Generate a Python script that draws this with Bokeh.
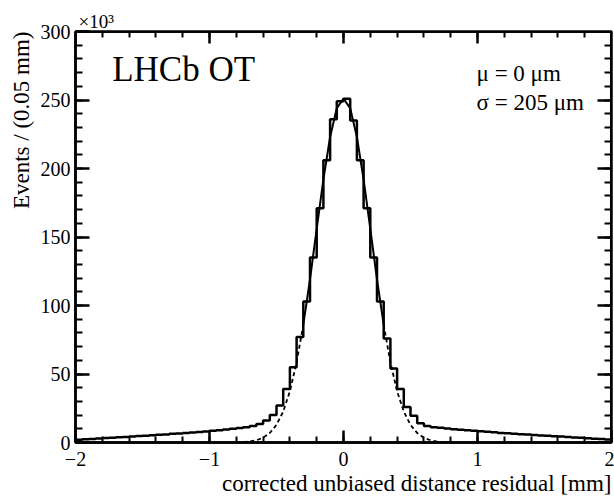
import numpy as np
from bokeh.plotting import figure
from bokeh.models import LinearAxis, Label, FixedTicker, Title
from bokeh.embed import file_html
from bokeh.resources import INLINE

# ---- data ----
bin_lo, bin_hi = -2.0, 2.0
counts_k = [
    2.0, 2.3, 2.6, 2.9, 3.2, 3.5, 3.8, 4.1, 4.4, 4.7, 5.0, 5.3, 5.6, 5.9,
    6.3, 6.6, 6.9, 7.3, 7.7, 8.1, 8.5, 9.0, 9.5, 10.0, 10.6, 11.2, 12.0,
    13.5, 16, 20, 27, 39, 55, 77, 103, 135, 171, 206, 236, 249,
    251, 235, 206, 171, 135, 103, 76, 54, 39, 26, 19.5, 14, 12,
    11.2, 10.7, 10.2, 9.7, 9.3, 8.9, 8.6, 8.2, 7.8, 7.4, 7.0, 6.7, 6.4,
    6.1, 5.8, 5.5, 5.2, 4.9, 4.6, 4.3, 4.0, 3.7, 3.4, 3.1, 2.8, 2.5, 2.2,
]
fit_x = [-0.8, -0.75, -0.7, -0.65, -0.6, -0.55, -0.5, -0.45, -0.4, -0.35, -0.3,
         -0.25, -0.2, -0.15, -0.1, -0.05, 0.0, 0.05, 0.1, 0.15, 0.2, 0.25,
         0.3, 0.35, 0.4, 0.45, 0.5, 0.55, 0.6, 0.65, 0.7, 0.75, 0.8]
fit_y = [0.1, 0.3, 0.7, 1.6, 3.5, 6.9, 12.9, 22.6, 37.4, 58.5, 86,
         119, 156, 192, 223, 244, 251, 244, 223, 192, 156, 119,
         86, 58.5, 37.4, 22.6, 12.9, 6.9, 3.5, 1.6, 0.7, 0.3, 0.1]
fit_lo, fit_hi = -0.3, 0.3
x_major_ticks = [-2, -1, 0, 1, 2]
x_minor_step = 0.2
y_major_ticks = [0, 50, 100, 150, 200, 250, 300]
y_minor_step = 10
x_label = "corrected unbiased distance residual [mm]"
y_label = "Events / (0.05 mm)"
title_text = "LHCb OT"
mu_text = "\u03bc = 0 \u03bcm"
sigma_text = "\u03c3 = 205 \u03bcm"
exp_text = "\u00d710\u00b3"

FONT = "Liberation Serif"

n_bins = len(counts_k)
edges = np.linspace(bin_lo, bin_hi, n_bins + 1)
step_y = list(counts_k) + [counts_k[-1]]
x_minor = list(np.round(np.arange(bin_lo, bin_hi + 1e-9, x_minor_step), 6))
y_minor = list(np.arange(0, 300 + 1, y_minor_step))

p = figure(width=614, height=499, x_range=(-2, 2), y_range=(0, 300),
           output_backend="svg", toolbar_location=None,
           x_axis_location=None, y_axis_location=None,
           min_border_left=75, min_border_right=3,
           min_border_top=31, min_border_bottom=57)
p.grid.visible = False
p.outline_line_color = "black"
p.outline_line_width = 2.5
p.background_fill_color = "white"
p.border_fill_color = "white"

# "x10^3" multiplier as the plot title, top-left
p.title.text = exp_text
p.title.align = "left"
p.title.text_font = FONT
p.title.text_font_size = "19px"
p.title.text_font_style = "normal"
p.title.text_color = "black"
p.title.standoff = 0
p.title.offset = -7
p.title.padding = (10, 0, 0, 0)


def style_axis(ax, maj_in, min_in):
    ax.axis_line_width = 2.5
    ax.axis_line_color = "black"
    ax.major_tick_line_width = 2.5
    ax.minor_tick_line_width = 2
    ax.major_tick_in = maj_in
    ax.major_tick_out = 0
    ax.minor_tick_in = min_in
    ax.minor_tick_out = 0
    ax.major_label_text_font = FONT
    ax.major_label_text_font_size = "20px"
    ax.major_label_text_color = "black"
    return ax


left = style_axis(LinearAxis(ticker=FixedTicker(ticks=y_major_ticks, minor_ticks=y_minor)), 14, 7)
left.major_label_standoff = 5
bottom = style_axis(LinearAxis(ticker=FixedTicker(ticks=x_major_ticks, minor_ticks=x_minor)), 12, 6)
bottom.major_label_standoff = 9
p.add_layout(left, "left")
p.add_layout(bottom, "below")

# mirrored tick marks (no labels) on the right and top edges
for ticks, tin in ((y_minor, 7), (y_major_ticks, 14)):
    ax = style_axis(LinearAxis(ticker=FixedTicker(ticks=[], minor_ticks=ticks),
                               fixed_location=2), 0, tin)
    ax.minor_tick_line_width = 2.5 if tin > 10 else 2
    p.add_layout(ax, "right")
for ticks, tin in ((x_minor, 6), (x_major_ticks, 12)):
    ax = style_axis(LinearAxis(ticker=FixedTicker(ticks=[], minor_ticks=ticks),
                               fixed_location=300), 0, tin)
    ax.minor_tick_line_width = 2.5 if tin > 10 else 2
    p.add_layout(ax, "above")

# axis titles
p.add_layout(Title(text=y_label, align="right", text_font=FONT,
                   text_font_size="23px", text_font_style="normal",
                   text_color="black", standoff=7), "left")
p.add_layout(Title(text=x_label, align="right", text_font=FONT,
                   text_font_size="23px", text_font_style="normal",
                   text_color="black", standoff=0), "below")

# histogram
p.step(x=edges, y=step_y, mode="after", line_color="black", line_width=2.5)

# fit curve: solid in the fit range, dashed outside
fx = np.array(fit_x)
fy = np.array(fit_y)
core = (fx >= fit_lo - 1e-9) & (fx <= fit_hi + 1e-9)
lt = fx <= fit_lo + 1e-9
rt = fx >= fit_hi - 1e-9
p.line(fx[core], fy[core], line_color="black", line_width=2)
p.line(fx[lt], fy[lt], line_color="black", line_width=1.8, line_dash="4 3")
p.line(fx[rt], fy[rt], line_color="black", line_width=1.8, line_dash="4 3")

# texts inside the frame
p.add_layout(Label(x=-1.726, y=272, text=title_text, text_font=FONT,
                   text_font_size="35px", text_baseline="alphabetic",
                   text_color="black"))
p.add_layout(Label(x=0.993, y=269.6, text=mu_text, text_font=FONT,
                   text_font_size="23px", text_baseline="middle",
                   text_color="black"))
p.add_layout(Label(x=0.993, y=248.4, text=sigma_text, text_font=FONT,
                   text_font_size="23px", text_baseline="middle",
                   text_color="black"))

open("out.html", "w").write(file_html(p, INLINE))
